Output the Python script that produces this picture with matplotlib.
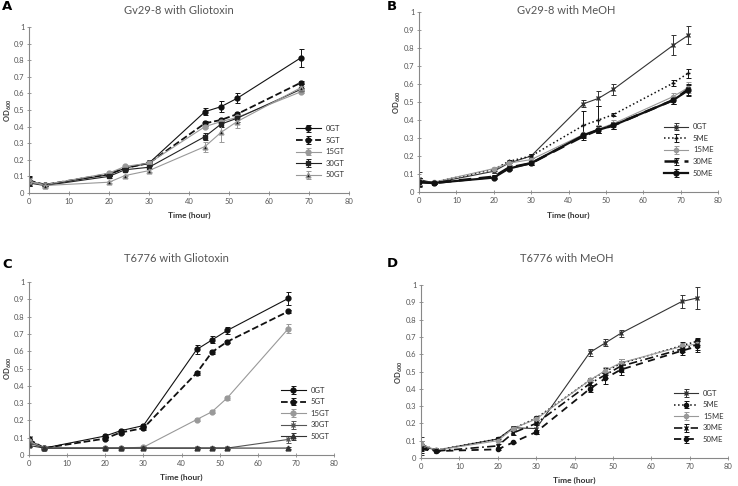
import matplotlib
matplotlib.use("Agg")
import matplotlib.pyplot as plt
import numpy as np

plt.rcParams['font.family'] = ['Lato', 'DejaVu Sans']
plt.rcParams['mathtext.fontset'] = 'custom'
plt.rcParams['mathtext.rm'] = 'Lato'
plt.rcParams['mathtext.bf'] = 'Lato:bold'

# ---------------- data ----------------
tA = [0, 4, 20, 24, 30, 44, 48, 52, 68]
A_0GT = [0.07, 0.05, 0.11, 0.15, 0.18, 0.49, 0.52, 0.57, 0.815]
A_0GT_err = [0.03, 0.005, 0.01, 0.01, 0.02, 0.02, 0.035, 0.03, 0.055]
A_5GT = [0.075, 0.05, 0.115, 0.15, 0.18, 0.42, 0.44, 0.475, 0.665]
A_5GT_err = [0.02, 0.005, 0.01, 0.01, 0.01, 0.015, 0.01, 0.01, 0.01]
A_15GT = [0.07, 0.05, 0.12, 0.16, 0.18, 0.40, 0.43, 0.455, 0.61]
A_15GT_err = [0.02, 0.005, 0.01, 0.01, 0.01, 0.01, 0.01, 0.01, 0.01]
A_30GT = [0.06, 0.045, 0.10, 0.14, 0.155, 0.34, 0.415, 0.45, 0.625]
A_30GT_err = [0.02, 0.005, 0.01, 0.01, 0.01, 0.02, 0.02, 0.02, 0.01]
A_50GT = [0.07, 0.045, 0.065, 0.105, 0.135, 0.28, 0.365, 0.43, 0.635]
A_50GT_err = [0.02, 0.005, 0.005, 0.005, 0.01, 0.03, 0.06, 0.04, 0.01]

tB = [0, 4, 20, 24, 30, 44, 48, 52, 68, 72]
B_0GT = [0.07, 0.05, 0.115, 0.16, 0.20, 0.49, 0.52, 0.57, 0.815, 0.87]
B_0GT_err = [0.04, 0.005, 0.01, 0.01, 0.01, 0.02, 0.04, 0.03, 0.055, 0.05]
B_5ME = [0.06, 0.055, 0.125, 0.17, 0.20, 0.37, 0.40, 0.43, 0.605, 0.66]
B_5ME_err = [0.02, 0.005, 0.01, 0.01, 0.01, 0.08, 0.075, 0.01, 0.015, 0.025]
B_15ME = [0.06, 0.055, 0.13, 0.16, 0.18, 0.32, 0.35, 0.38, 0.53, 0.58]
B_15ME_err = [0.02, 0.005, 0.01, 0.01, 0.01, 0.01, 0.02, 0.02, 0.02, 0.03]
B_30ME = [0.055, 0.05, 0.085, 0.135, 0.16, 0.31, 0.345, 0.37, 0.51, 0.57]
B_30ME_err = [0.02, 0.005, 0.01, 0.01, 0.01, 0.01, 0.02, 0.02, 0.02, 0.03]
B_50ME = [0.055, 0.05, 0.08, 0.13, 0.16, 0.315, 0.345, 0.37, 0.51, 0.565]
B_50ME_err = [0.02, 0.005, 0.01, 0.01, 0.01, 0.01, 0.02, 0.02, 0.02, 0.03]

tC = [0, 4, 20, 24, 30, 44, 48, 52, 68]
C_0GT = [0.085, 0.04, 0.11, 0.14, 0.17, 0.61, 0.665, 0.72, 0.905]
C_0GT_err = [0.02, 0.005, 0.01, 0.01, 0.01, 0.025, 0.02, 0.02, 0.04]
C_5GT = [0.09, 0.04, 0.095, 0.13, 0.155, 0.475, 0.595, 0.655, 0.83]
C_5GT_err = [0.02, 0.005, 0.01, 0.01, 0.01, 0.01, 0.01, 0.01, 0.01]
C_15GT = [0.08, 0.04, 0.04, 0.04, 0.045, 0.205, 0.25, 0.33, 0.73]
C_15GT_err = [0.03, 0.005, 0.005, 0.005, 0.005, 0.01, 0.01, 0.01, 0.025]
C_30GT = [0.07, 0.04, 0.04, 0.04, 0.04, 0.04, 0.04, 0.04, 0.09]
C_30GT_err = [0.02, 0.005, 0.005, 0.005, 0.005, 0.005, 0.005, 0.005, 0.02]
C_50GT = [0.055, 0.04, 0.04, 0.04, 0.04, 0.04, 0.04, 0.04, 0.04]
C_50GT_err = [0.01, 0.005, 0.005, 0.005, 0.005, 0.005, 0.005, 0.005, 0.005]

tD = [0, 4, 20, 24, 30, 44, 48, 52, 68, 72]
D_0GT = [0.07, 0.045, 0.11, 0.175, 0.17, 0.61, 0.665, 0.72, 0.905, 0.925]
D_0GT_err = [0.05, 0.005, 0.01, 0.01, 0.03, 0.02, 0.02, 0.02, 0.04, 0.065]
D_5ME = [0.08, 0.045, 0.11, 0.17, 0.23, 0.45, 0.50, 0.545, 0.65, 0.675]
D_5ME_err = [0.02, 0.005, 0.01, 0.01, 0.01, 0.01, 0.02, 0.025, 0.02, 0.02]
D_15ME = [0.08, 0.045, 0.10, 0.17, 0.225, 0.45, 0.505, 0.55, 0.645, 0.66]
D_15ME_err = [0.02, 0.005, 0.01, 0.01, 0.01, 0.01, 0.02, 0.025, 0.02, 0.02]
D_30ME = [0.06, 0.04, 0.07, 0.145, 0.20, 0.43, 0.48, 0.53, 0.63, 0.655]
D_30ME_err = [0.02, 0.005, 0.01, 0.01, 0.01, 0.02, 0.02, 0.03, 0.02, 0.03]
D_50ME = [0.05, 0.04, 0.05, 0.09, 0.15, 0.40, 0.46, 0.51, 0.62, 0.645]
D_50ME_err = [0.02, 0.005, 0.005, 0.005, 0.01, 0.02, 0.03, 0.03, 0.025, 0.03]

titles = ["Gv29-8 with Gliotoxin", "Gv29-8 with MeOH", "T6776 with Gliotoxin", "T6776 with MeOH"]
panel_letters = ["A", "B", "C", "D"]
y_ticklabels = ["0", "0.1", "0.2", "0.3", "0.4", "0.5", "0.6", "0.7", "0.8", "0.9", "1"]

# ---------------- figure ----------------
W, H = 738, 486
fig = plt.figure(figsize=(W / 100, H / 100), dpi=100)

def px_axes(x0, x1, ytop, ybot):
    return fig.add_axes([x0 / W, 1 - ybot / H, (x1 - x0) / W, (ybot - ytop) / H])

BLK = "#111111"
GRY = "#999999"
DGR = "#555555"
AXC = "#888888"
TXC = "#555555"

def style(ax):
    ax.set_xlim(0, 80)
    ax.set_ylim(0, 1)
    ax.set_xticks(np.arange(0, 81, 10))
    ax.set_yticks(np.round(np.arange(0, 1.01, 0.1), 1))
    ax.set_yticklabels(y_ticklabels)
    for s in ["top", "right"]:
        ax.spines[s].set_visible(False)
    for s in ["left", "bottom"]:
        ax.spines[s].set_color(AXC)
        ax.spines[s].set_linewidth(0.8)
    ax.tick_params(axis="both", labelsize=5.5, colors=AXC, labelcolor=TXC,
                   length=2.5, width=0.6, direction="inout", pad=2)
    ax.patch.set_alpha(0)

def series(ax, t, y, e, label, color, ls="-", marker="o", ms=3.5, lw=0.8, mfc=None):
    ax.errorbar(t, y, yerr=e, color=color, ls=ls, marker=marker, ms=ms, lw=lw,
                mfc=mfc if mfc else color, mec=color, ecolor=color, elinewidth=0.7,
                capsize=1.8, capthick=0.7, label=label)

def legend(ax, anchor_y=0.06):
    leg = ax.legend(loc="lower right", bbox_to_anchor=(1.0, anchor_y), frameon=False,
                    fontsize=5.5, handlelength=3.2, labelspacing=0.6, handletextpad=0.6,
                    borderaxespad=0.2)
    for txt in leg.get_texts():
        txt.set_color("#333333")
    return leg

# Panel A
axA = px_axes(29, 349, 27, 193)
style(axA)
series(axA, tA, A_0GT, A_0GT_err, "0GT", BLK, "-", "o")
series(axA, tA, A_5GT, A_5GT_err, "5GT", BLK, "--", "o", lw=1.3)
series(axA, tA, A_15GT, A_15GT_err, "15GT", GRY, "-", "o")
series(axA, tA, A_30GT, A_30GT_err, "30GT", "#222222", "-", "s", ms=3)
series(axA, tA, A_50GT, A_50GT_err, "50GT", GRY, "-", "^", ms=3.5, mfc=BLK)
legend(axA)

# Panel B
axB = px_axes(419, 718, 12, 192)
style(axB)
series(axB, tB, B_0GT, B_0GT_err, "0GT", "#333333", "-", "x", ms=3.2)
series(axB, tB, B_5ME, B_5ME_err, "5ME", BLK, ":", "+", ms=3.5, lw=1.1)
series(axB, tB, B_15ME, B_15ME_err, "15ME", GRY, "-", "o", ms=3)
series(axB, tB, B_30ME, B_30ME_err, "30ME", BLK, (0, (5, 3)), "x", ms=3, lw=1.8)
series(axB, tB, B_50ME, B_50ME_err, "50ME", BLK, "-", "o", ms=3.5, lw=1.6)
legend(axB)

# Panel C
axC = px_axes(29, 334, 282, 455)
style(axC)
series(axC, tC, C_0GT, C_0GT_err, "0GT", BLK, "-", "o")
series(axC, tC, C_5GT, C_5GT_err, "5GT", BLK, "--", "o", lw=1.3)
series(axC, tC, C_15GT, C_15GT_err, "15GT", GRY, "-", "o")
series(axC, tC, C_30GT, C_30GT_err, "30GT", DGR, "-", "x", ms=3.2)
series(axC, tC, C_50GT, C_50GT_err, "50GT", "#333333", "-", "^", ms=3.5)
legend(axC)

# Panel D
axD = px_axes(421, 728, 285, 458)
style(axD)
series(axD, tD, D_0GT, D_0GT_err, "0GT", "#333333", "-", "x", ms=3.2)
series(axD, tD, D_5ME, D_5ME_err, "5ME", BLK, ":", "o", ms=3, lw=1.1)
series(axD, tD, D_15ME, D_15ME_err, "15ME", GRY, "-", "o", ms=3)
series(axD, tD, D_30ME, D_30ME_err, "30ME", BLK, (0, (5, 2, 1, 2)), "x", ms=3, lw=1.2)
series(axD, tD, D_50ME, D_50ME_err, "50ME", BLK, (0, (4, 3)), "o", ms=3, lw=1.3)
legend(axD)

axes = [axA, axB, axC, axD]

# titles, letters, labels (pixel positions)
title_pos = [(179, 11), (566, 11), (176, 258), (567, 259)]
letter_pos = [(2, 7), (387, 7), (2, 264), (387, 263)]
xlabel_pos = [(189, 215), (568, 215), (181, 477), (574, 480)]
ylabel_pos = [(8, 110), (397, 102), (8, 368), (399, 372)]

for ax, ttl, (tx, ty), let, (lx, ly), (xx, xy), (yx, yy) in zip(
        axes, titles, title_pos, panel_letters, letter_pos, xlabel_pos, ylabel_pos):
    fig.text(tx / W, 1 - ty / H, ttl, ha="center", va="center", fontsize=8, color="#555555")
    fig.text(lx / W, 1 - ly / H, let, ha="left", va="center", fontsize=9.5,
             fontweight="bold", color="black", family=["DejaVu Sans"])
    fig.text(xx / W, 1 - xy / H, "Time (hour)", ha="center", va="center", fontsize=6,
             fontweight="bold", color="#333333")
    fig.text(yx / W, 1 - yy / H, r"$\mathbf{OD_{600}}$", ha="center", va="center",
             fontsize=5.5, rotation=90, color="#333333")

fig.savefig("out.png", dpi=100, facecolor="white")
